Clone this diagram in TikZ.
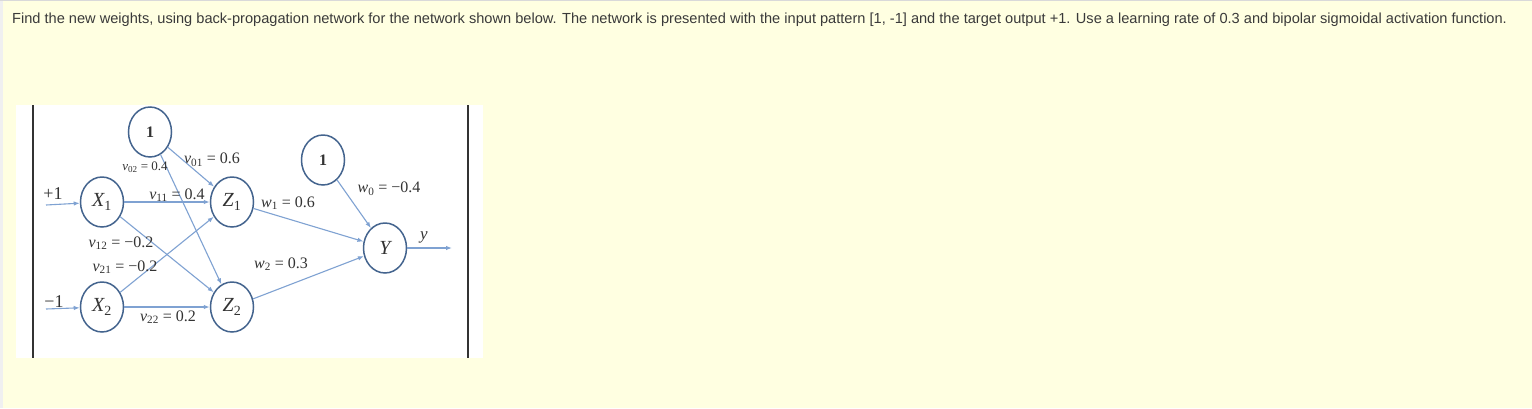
\documentclass[tikz,border=0pt]{standalone}
\usepackage{fontspec}
\setmainfont{Liberation Serif}
\newfontfamily\qfont{Liberation Sans}
\usetikzlibrary{shapes.geometric,arrows.meta}
\definecolor{bgyel}{HTML}{FFFFE1}
\definecolor{nodeblue}{HTML}{44648E}
\definecolor{edgeblue}{HTML}{7FA2D2}
\definecolor{qtext}{HTML}{3A3A3A}
\definecolor{labtext}{HTML}{333333}
\newcommand{\wl}[3]{\textit{#1}\textsubscript{\upshape #2} = #3}
\newcommand{\nsub}[1]{\textsubscript{\upshape #1}}
\tikzset{
  neuron/.style={ellipse, draw=nodeblue, line width=1.5pt, fill=white,
    minimum width=43pt, minimum height=50pt, inner sep=0pt,
    font=\fontsize{20}{20}\selectfont\itshape, text=labtext},
  biasn/.style={neuron, font=\fontsize{16}{16}\selectfont\bfseries\upshape},
  conn/.style={draw=edgeblue, line width=1.1pt, -{Latex[length=6pt,width=4.5pt]}},
  wlab/.style={font=\fontsize{16}{16}\selectfont, text=labtext, inner sep=0pt},
}
\begin{document}
\begin{tikzpicture}[x=1pt,y=-1pt]
\useasboundingbox (0,0) rectangle (1532,408);
\fill[bgyel] (0,0) rectangle (1532,408);
\fill[black!6] (0,0) rectangle (3,408);
\draw[black!15, line width=1pt] (0,0.5) -- (1532,0.5);
\node[anchor=west, inner sep=0pt, text=qtext, font=\qfont\fontsize{14.6}{16}\selectfont] (q) at (12,20)
  {Find the new weights, using back-propagation network for the network shown below. The network is presented with the input pattern [1, -1] and the target output +1. Use a learning rate of 0.3 and bipolar sigmoidal activation function.};
% picture panel
\fill[white] (16,105) rectangle (483,358);
\draw[black!80, line width=1.6pt] (33,105) -- (33,358);
\draw[black!80, line width=1.6pt] (468,105) -- (468,358);
% nodes
\node[biasn] (b1) at (150,132) {1};
\node[neuron] (x1) at (102,202) {X\nsub{1}};
\node[neuron] (x2) at (102,307) {X\nsub{2}};
\node[neuron] (z1) at (232,202) {Z\nsub{1}};
\node[neuron] (z2) at (232,307) {Z\nsub{2}};
\node[biasn] (b2) at (323,160) {1};
\node[neuron] (y) at (385,248) {Y};
\coordinate (in1) at (46,205);
\coordinate (in2) at (46,309);
\coordinate (out) at (452,248);
% connectors
\draw[conn] (in1) -- (x1);
\draw[conn] (in2) -- (x2);
\draw[conn] (b1) -- (z1);
\draw[conn] (b1) -- (z2);
\draw[conn] (x1) -- (z1);
\draw[conn] (x1) -- (z2);
\draw[conn] (x2) -- (z1);
\draw[conn] (x2) -- (z2);
\draw[conn] (z1) -- (y);
\draw[conn] (z2) -- (y);
\draw[conn] (b2) -- (y);
\draw[conn] (y) -- (out);
% labels
\node[wlab, font=\fontsize{18}{18}\selectfont] (lp1) at (53,194) {+1};
\node[wlab, font=\fontsize{18}{18}\selectfont] (lm1) at (54,302) {−1};
\node[wlab, font=\fontsize{13}{13}\selectfont] (l02) at (145,167) {\wl{v}{02}{0.4}};
\node[wlab] (l01) at (212,160) {\wl{v}{01}{0.6}};
\node[wlab] (l11) at (177,195) {\wl{v}{11}{0.4}};
\node[wlab] (l12) at (121,243) {\wl{v}{12}{−0.2}};
\node[wlab] (l21) at (125,267) {\wl{v}{21}{−0.2}};
\node[wlab] (l22) at (168,317) {\wl{v}{22}{0.2}};
\node[wlab] (lw1) at (288,203) {\wl{w}{1}{0.6}};
\node[wlab] (lw0) at (389,189) {\wl{w}{0}{−0.4}};
\node[wlab] (lw2) at (281,264) {\wl{w}{2}{0.3}};
\node[wlab, font=\fontsize{17}{17}\selectfont\itshape] (ly) at (424,237) {y};
\end{tikzpicture}
\end{document}
